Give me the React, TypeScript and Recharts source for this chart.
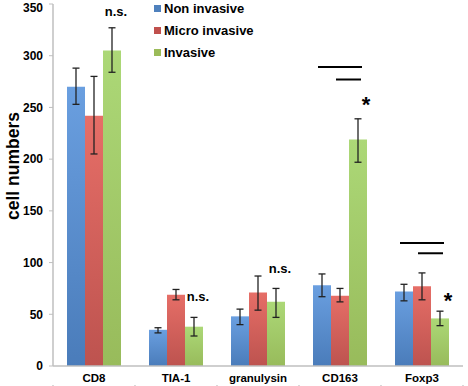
import { BarChart, Bar, XAxis, YAxis, ErrorBar, Legend, LabelList } from "recharts";

const categories = ["CD8", "TIA-1", "granulysin", "CD163", "Foxp3"];
const nonInvasive = [270, 35, 48, 78, 72];
const microInvasive = [242, 69, 71, 68, 77];
const invasive = [305, 38, 62, 219, 46];

const nonLow = [253, 32, 40, 67, 63];
const nonHigh = [288, 37, 55, 89, 79];
const microLow = [205, 64, 54, 62, 64];
const microHigh = [280, 74, 87, 75, 90];
const invLow = [284, 29, 47, 197, 39];
const invHigh = [327, 47, 75, 239, 53];

// significance marks, drawn next to the Invasive bar
const marks = ["n.s.", "n.s.", "n.s.", "*", "*"];
const markLevels = [343, 67, 94, 258, 68];
const longBarLevels = [null, null, null, 289, 119];
const shortBarLevels = [null, null, null, 277, 109];

const yTicks = [0, 50, 100, 150, 200, 250, 300, 350];
const dividers = [0, 1, 2, 3, 4, 5];

const FONT = "Arial, 'Liberation Sans', sans-serif";

const data = categories.map((name, i) => ({
  name,
  pos: i + 0.5,
  non: nonInvasive[i],
  micro: microInvasive[i],
  inv: invasive[i],
  nonErr: [nonInvasive[i] - nonLow[i], nonHigh[i] - nonInvasive[i]],
  microErr: [microInvasive[i] - microLow[i], microHigh[i] - microInvasive[i]],
  invErr: [invasive[i] - invLow[i], invHigh[i] - invasive[i]],
}));

const series = [
  { key: "non", err: "nonErr", name: "Non invasive", fill: "url(#gBlue)", swatch: "#4f81bd" },
  { key: "micro", err: "microErr", name: "Micro invasive", fill: "url(#gRed)", swatch: "#c0504d" },
  { key: "inv", err: "invErr", name: "Invasive", fill: "url(#gGreen)", swatch: "#9bbb59" },
];

function Marks(props: any) {
  const { x, y, width, height, index } = props;
  const value = invasive[index];
  const base = y + height;
  const toPx = (v: number) => base - (v * height) / value;
  const cx = x + width / 2;
  const text = marks[index];
  const star = text === "*";
  const longL = longBarLevels[index];
  const shortL = shortBarLevels[index];
  return (
    <g>
      {longL != null && (
        <line x1={cx - 2 * width - 4} x2={cx + 4} y1={toPx(longL)} y2={toPx(longL)} stroke="#000" strokeWidth={2} />
      )}
      {shortL != null && (
        <line x1={cx - 22} x2={cx + 3} y1={toPx(shortL)} y2={toPx(shortL)} stroke="#000" strokeWidth={2} />
      )}
      <text
        x={star ? cx + 8 : cx + 4}
        y={toPx(markLevels[index])}
        textAnchor="middle"
        dominantBaseline="central"
        fontFamily={FONT}
        fontWeight="bold"
        fontSize={star ? 22 : 13}
        dy={star ? 5 : 0}
        fill="#000"
      >
        {text}
      </text>
    </g>
  );
}

function LegendBox() {
  return (
    <div style={{ fontFamily: FONT, fontWeight: "bold", fontSize: 13, color: "#000" }}>
      {series.map((s) => (
        <div key={s.key} style={{ display: "flex", alignItems: "center", height: 22 }}>
          <span style={{ width: 7, height: 7, background: s.swatch, marginRight: 3, display: "inline-block" }} />
          <span>{s.name}</span>
        </div>
      ))}
    </div>
  );
}

function YLabel() {
  return (
    <text
      x={13}
      y={166}
      transform="rotate(-90, 13, 166)"
      textAnchor="middle"
      dominantBaseline="central"
      fontFamily={FONT}
      fontWeight="bold"
      fontSize={17.5}
      fill="#000"
    >
      cell numbers
    </text>
  );
}

export default function App() {
  return (
    <div style={{ position: "absolute", left: 0, top: 0, background: "#fff" }}>
      <BarChart
        width={468}
        height={386}
        data={data}
        margin={{ top: 4, right: 5, bottom: 0, left: 0 }}
        barGap={0}
        barSize={18}
      >
        <defs>
          <linearGradient id="gBlue" x1="0" y1="0" x2="0" y2="1">
            <stop offset="0%" stopColor="#6a9fe0" />
            <stop offset="100%" stopColor="#4a7cba" />
          </linearGradient>
          <linearGradient id="gRed" x1="0" y1="0" x2="0" y2="1">
            <stop offset="0%" stopColor="#e66e67" />
            <stop offset="100%" stopColor="#bd534f" />
          </linearGradient>
          <linearGradient id="gGreen" x1="0" y1="0" x2="0" y2="1">
            <stop offset="0%" stopColor="#acd877" />
            <stop offset="100%" stopColor="#98bb5b" />
          </linearGradient>
        </defs>
        <XAxis
          xAxisId="div"
          dataKey="pos"
          type="number"
          domain={[0, 5]}
          ticks={dividers}
          allowDataOverflow
          height={1}
          tick={() => <g />}
          axisLine={false}
          tickLine={{ stroke: "#bfbfbf", strokeWidth: 1.2 }}
          tickSize={4}
        />
        <XAxis
          dataKey="name"
          height={19}
          axisLine={{ stroke: "#bfbfbf", strokeWidth: 1.5 }}
          tickLine={false}
          tickMargin={2}
          tick={{ fontFamily: FONT, fontWeight: "bold", fontSize: 11.5, fill: "#000" }}
          interval={0}
        />
        <YAxis
          width={53}
          domain={[0, 350]}
          ticks={yTicks}
          axisLine={{ stroke: "#bfbfbf", strokeWidth: 1.5 }}
          tickLine={{ stroke: "#bfbfbf" }}
          tickSize={4}
          tickMargin={6}
          tick={{ fontFamily: FONT, fontWeight: "bold", fontSize: 12, fill: "#000" }}
          label={<YLabel />}
        />
        <Legend
          verticalAlign="middle"
          align="center"
          layout="vertical"
          wrapperStyle={{ left: 154, top: -3, width: 130 }}
          content={<LegendBox />}
        />
        {series.map((s) => (
          <Bar key={s.key} dataKey={s.key} name={s.name} fill={s.fill} isAnimationActive={false}>
            <ErrorBar dataKey={s.err} width={3.5} stroke="#222" strokeWidth={1.3} direction="y" />
            {s.key === "inv" && <LabelList dataKey="inv" content={<Marks />} />}
          </Bar>
        ))}
      </BarChart>
    </div>
  );
}
